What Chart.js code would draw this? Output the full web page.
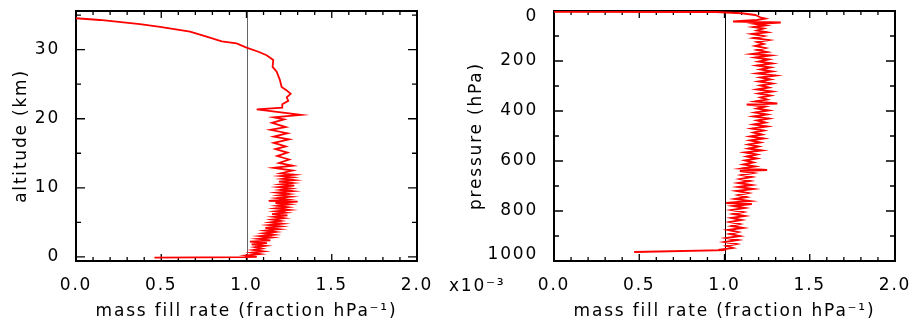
<!DOCTYPE html>
<html>
<head>
<meta charset="utf-8">
<script src="https://cdn.jsdelivr.net/npm/chart.js@4.4.1/dist/chart.umd.min.js"></script>
<style>
  body { margin: 0; background: #fff; width: 919px; height: 331px; overflow: hidden; position: relative; font-family: "DejaVu Sans"; }
  canvas { position: absolute; top: 0; }
  #left { left: 0; }
  #right { left: 460px; }
  #scale { position: absolute; left: 449px; top: 275px; font-size: 17px; letter-spacing: 1.8px; color: #000; }
</style>
</head>
<body>
<canvas id="left" width="460" height="331"></canvas>
<canvas id="right" width="459" height="331"></canvas>
<div id="scale">x10⁻³</div>
<script>
// left panel, ground to top
const altitudeKm = [
  -0.12, -0.05, 0.0, 0.2, 0.4, 0.6, 0.8, 1.0, 1.2, 1.4, 1.6, 1.8, 2.0, 2.2, 2.4, 2.6, 2.8,
  3.0, 3.2, 3.4, 3.6, 3.8, 4.0, 4.2, 4.4, 4.6, 4.8, 5.0, 5.2, 5.4, 5.6, 5.8, 6.0, 6.2, 6.4,
  6.6, 6.8, 7.0, 7.2, 7.4, 7.6, 7.8, 8.0, 8.1, 8.3, 8.5, 8.7, 8.9, 9.1, 9.3, 9.5, 9.7, 9.9,
  10.1, 10.3, 10.5, 10.7, 10.9, 11.1, 11.3, 11.5, 11.7, 11.9, 12.1, 12.5, 12.9, 13.2, 13.6,
  14.1, 14.6, 15.1, 15.6, 16.0, 16.5, 17.0, 17.4, 17.9, 18.4, 18.8, 19.4, 19.9, 20.2, 20.55,
  21.37, 21.6, 22.1, 22.6, 23.1, 23.6, 24.1, 24.6, 25.6, 26.8, 27.5, 28.5, 29.2, 29.7, 30.3,
  30.9, 31.2, 31.9, 32.6, 33.3, 33.7, 34.3, 34.55
];
const fillRateByAltitude = [
  0.46, 0.99, 1.06, 1.00, 1.08, 1.03, 1.10, 1.04, 1.09, 1.05, 1.11, 1.03, 1.12, 1.02, 1.14, 1.07, 1.15,
  1.08, 1.16, 1.10, 1.17, 1.11, 1.19, 1.11, 1.20, 1.13, 1.21, 1.14, 1.20, 1.15, 1.22, 1.16, 1.24, 1.15, 1.23,
  1.17, 1.25, 1.17, 1.24, 1.18, 1.25, 1.17, 1.30, 1.13, 1.24, 1.18, 1.26, 1.19, 1.25, 1.18, 1.27, 1.20, 1.26,
  1.19, 1.28, 1.20, 1.27, 1.19, 1.28, 1.21, 1.27, 1.20, 1.28, 1.20, 1.27, 1.16, 1.27, 1.19,
  1.25, 1.18, 1.24, 1.17, 1.23, 1.16, 1.25, 1.16, 1.24, 1.14, 1.23, 1.15, 1.22, 1.16, 1.32,
  1.06, 1.21, 1.21, 1.245, 1.236, 1.259, 1.236, 1.206, 1.196, 1.177, 1.153, 1.157, 1.118, 1.07, 1.0,
  0.942, 0.855, 0.766, 0.669, 0.493, 0.375, 0.14, 0.0
];

// right panel, top of atmosphere to surface
const pressureHPa = [
  3, 4, 9, 16, 25, 30, 36, 42, 46, 52, 58, 64, 70, 78, 85, 92, 100, 108, 116, 124, 132, 140, 148,
  156, 164, 172, 178, 186, 194, 202, 210, 218, 226, 234, 242, 250, 258, 266, 274, 282, 290, 298,
  306, 314, 322, 330, 338, 346, 354, 362, 370, 374, 382, 390, 398, 406, 414, 422, 430, 438, 446,
  454, 462, 470, 478, 486, 494, 502, 510, 518, 526, 534, 542, 550, 558, 566, 574, 582, 590, 598,
  606, 614, 622, 630, 636, 640, 648, 656, 664, 672, 680, 688, 696, 704, 712, 720, 728, 736, 744,
  752, 760, 768, 772, 780, 788, 796, 804, 812, 820, 828, 836, 844, 852, 860, 868, 876, 884, 892,
  900, 908, 916, 924, 932, 940, 948, 954, 957, 964
];
const fillRateByPressure = [
  0.0, 0.95, 1.10, 1.18, 1.21, 1.24, 1.19, 1.05, 1.33, 1.18, 1.24, 1.17, 1.23, 1.19, 1.25, 1.16, 1.23, 1.17, 1.26, 1.19, 1.23, 1.18, 1.24,
  1.19, 1.25, 1.16, 1.27, 1.18, 1.26, 1.20, 1.28, 1.19, 1.27, 1.21, 1.28, 1.19, 1.30, 1.21, 1.27, 1.20, 1.28, 1.21,
  1.26, 1.19, 1.28, 1.20, 1.27, 1.21, 1.25, 1.18, 1.31, 1.13, 1.24, 1.19, 1.26, 1.18, 1.25, 1.17, 1.26, 1.19, 1.24,
  1.17, 1.25, 1.16, 1.23, 1.17, 1.22, 1.15, 1.23, 1.15, 1.21, 1.14, 1.20, 1.14, 1.22, 1.12, 1.19, 1.13, 1.19, 1.12,
  1.17, 1.11, 1.18, 1.10, 1.25, 1.09, 1.17, 1.10, 1.16, 1.09, 1.15, 1.08, 1.16, 1.08, 1.17, 1.07, 1.14, 1.08, 1.13,
  1.06, 1.15, 1.01, 1.16, 1.05, 1.12, 1.04, 1.11, 1.05, 1.12, 1.04, 1.10, 1.03, 1.09, 1.04, 1.11, 1.02, 1.08, 1.03,
  1.09, 1.01, 1.08, 1.00, 1.07, 1.01, 1.05, 0.98, 0.99, 0.47
];

const rateTicks = [0, 0.5, 1, 1.5, 2];
const altitudeTicks = [0, 10, 20, 30];
const pressureTicks = [0, 200, 400, 600, 800, 1000];
const refRate = 1.0;

const FONT = { family: 'DejaVu Sans', size: 17 };

// IDL style box: frame, inward ticks on all sides, vertical line at refRate
const frame = {
  id: 'frame',
  beforeUpdate(chart) { chart.ctx.letterSpacing = '1.8px'; },
  beforeDraw(chart) { chart.ctx.letterSpacing = '1.8px'; },
  beforeDatasetsDraw(chart, args, o) {
    const { ctx, chartArea: a, scales: { x, y } } = chart;
    ctx.save();
    ctx.strokeStyle = o.refColor;
    ctx.lineWidth = 1;
    const rx = Math.round(x.getPixelForValue(refRate)) + 0.5;
    ctx.beginPath(); ctx.moveTo(rx, a.top); ctx.lineTo(rx, a.bottom); ctx.stroke();

    ctx.strokeStyle = '#000';
    ctx.lineWidth = 1.3;
    ctx.beginPath();
    const lo = Math.min(x.min, x.max), hi = Math.max(x.min, x.max);
    for (let v = Math.ceil(lo / o.xMinor - 1e-6) * o.xMinor; v <= hi + 1e-6; v += o.xMinor) {
      const p = x.getPixelForValue(v);
      const major = Math.abs(v / o.xMajor - Math.round(v / o.xMajor)) < 1e-6;
      const len = major ? 7 : 4;
      ctx.moveTo(p, a.bottom); ctx.lineTo(p, a.bottom - len);
      ctx.moveTo(p, a.top); ctx.lineTo(p, a.top + len);
    }
    const ylo = Math.min(y.min, y.max), yhi = Math.max(y.min, y.max);
    for (let v = Math.ceil(ylo / o.yMinor - 1e-6) * o.yMinor; v <= yhi + 1e-6; v += o.yMinor) {
      const p = y.getPixelForValue(v);
      const major = Math.abs(v / o.yMajor - Math.round(v / o.yMajor)) < 1e-6;
      const len = major ? 9 : 5;
      ctx.moveTo(a.left, p); ctx.lineTo(a.left + len, p);
      ctx.moveTo(a.right, p); ctx.lineTo(a.right - len, p);
    }
    ctx.stroke();

    ctx.lineWidth = 2;
    ctx.strokeRect(a.left, a.top, a.right - a.left, a.bottom - a.top);
    ctx.restore();
  }
};

function makePanel(id, rates, heights, yOpts, boxOpts) {
  new Chart(document.getElementById(id), {
    type: 'scatter',
    data: {
      datasets: [{
        data: rates.map((r, i) => ({ x: r, y: heights[i] })),
        showLine: true,
        borderColor: '#ff0000',
        borderWidth: 1.8,
        pointRadius: 0,
        tension: 0
      }]
    },
    options: {
      responsive: false,
      animation: false,
      devicePixelRatio: 1,
      layout: { autoPadding: false, padding: { left: 0, right: boxOpts.right, top: 11, bottom: 0 } },
      plugins: { legend: { display: false }, tooltip: { enabled: false }, frame: boxOpts },
      scales: {
        x: {
          type: 'linear', min: 0, max: 2,
          afterBuildTicks: s => { s.ticks = rateTicks.map(v => ({ value: v })); },
          afterFit: s => { s.height = 70; s.paddingLeft = 0; s.paddingRight = 0; },
          ticks: { color: '#000', font: FONT, padding: 6, maxRotation: 0, callback: v => v.toFixed(1) },
          grid: { display: false },
          border: { display: false },
          title: { display: true, text: 'mass fill rate (fraction hPa⁻¹)', color: '#000', font: FONT, padding: { top: 0, bottom: 9 } }
        },
        y: Object.assign({
          type: 'linear',
          afterFit: s => { s.width = boxOpts.left; s.paddingTop = 0; s.paddingBottom = 0; },
          grid: { display: false },
          border: { display: false }
        }, yOpts)
      }
    },
    plugins: [frame]
  });
}

makePanel('left', fillRateByAltitude, altitudeKm, {
  min: -0.6, max: 35.6,
  afterBuildTicks: s => { s.ticks = altitudeTicks.map(v => ({ value: v })); },
  ticks: { color: '#000', font: FONT, padding: 8 },
  title: { display: true, text: 'altitude (km)', color: '#000', font: FONT, padding: { top: 11, bottom: 0 } }
}, { left: 76, right: 43, refColor: '#666', xMinor: 0.1, xMajor: 0.5, yMinor: 5, yMajor: 10 });

// end labels sit a little inside the box, as in the original plot
const edgeP = [pressureTicks[0], pressureTicks[pressureTicks.length - 1]];
makePanel('right', fillRateByPressure, pressureHPa, {
  min: 0, max: 1000, reverse: true,
  afterBuildTicks: s => { s.ticks = pressureTicks.map(v => ({ value: v })); },
  ticks: {
    color: '#000', padding: 8,
    font: Object.assign({ lineHeight: 0.7 }, FONT),
    callback: v => v === edgeP[0] ? ['', String(v)] : v === edgeP[1] ? [String(v), ''] : String(v)
  },
  title: { display: true, text: 'pressure (hPa)', color: '#000', font: FONT, padding: { top: 6, bottom: 0 } }
}, { left: 94, right: 24, refColor: '#000', xMinor: 0.1, xMajor: 0.5, yMinor: 100, yMajor: 200 });
</script>
</body>
</html>
